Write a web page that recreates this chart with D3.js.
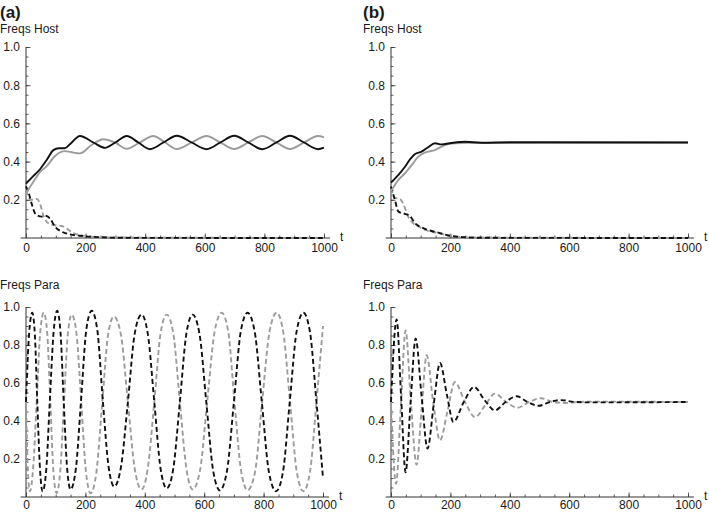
<!DOCTYPE html>
<html>
<head>
<meta charset="utf-8">
<script src="https://cdn.jsdelivr.net/npm/d3@7"></script>
<style>
  body { margin: 0; background: #fff; }
  text { font-family: "Liberation Sans", Arial, sans-serif; fill: #1a1a1a; }
</style>
</head>
<body>
<div id="root"></div>
<script>

// ---- panel (a), hosts ----
const hostA_tBlack = [0, 25, 47, 70, 92, 110, 130, 150, 181, 226, 265, 300, 338, 377, 416, 461, 506, 556, 606, 652, 699, 746, 793, 840, 886, 933, 980, 1000];
const hostA_black  = [0.285, 0.325, 0.36, 0.41, 0.46, 0.47, 0.47, 0.495, 0.534, 0.5, 0.472, 0.5, 0.534, 0.5, 0.465, 0.5, 0.535, 0.5, 0.465, 0.5, 0.535, 0.5, 0.465, 0.5, 0.535, 0.5, 0.465, 0.473];
const hostA_tGray  = [0, 25, 47, 69, 92, 110, 130, 150, 181, 220, 260, 299, 338, 382, 427, 467, 506, 556, 606, 652, 699, 746, 793, 840, 886, 933, 980, 1000];
const hostA_gray   = [0.235, 0.295, 0.345, 0.375, 0.42, 0.445, 0.455, 0.45, 0.443, 0.487, 0.517, 0.5, 0.467, 0.5, 0.534, 0.5, 0.466, 0.5, 0.534, 0.5, 0.466, 0.5, 0.534, 0.5, 0.466, 0.5, 0.534, 0.527];
const hostA_tBlackD = [0, 10, 19, 30, 36, 53, 69, 80, 97, 120, 148, 192, 250, 320, 1000];
const hostA_blackD  = [0.27, 0.23, 0.18, 0.13, 0.12, 0.112, 0.115, 0.103, 0.06, 0.033, 0.019, 0.01, 0.004, 0.001, 0];
const hostA_tGrayD  = [0, 8, 15, 25, 36, 47, 58, 75, 97, 120, 136, 159, 203, 270, 1000];
const hostA_grayD   = [0.25, 0.22, 0.2, 0.2, 0.205, 0.18, 0.12, 0.077, 0.067, 0.063, 0.05, 0.025, 0.01, 0.003, 0];

// ---- panel (a), parasites ----
const paraA_tBlack = [0, 10, 21, 30, 38, 47, 56, 68, 80, 93, 105, 116, 127, 139, 150, 168, 185, 203, 221, 240, 259, 278, 297, 320, 343, 366, 389, 410, 432, 453, 474, 496, 518, 540, 561, 584, 607, 630, 653, 677, 700, 723, 746, 770, 794, 818, 842, 865, 888, 911, 934, 956, 978, 1000];
const paraA_black  = [0.5, 0.85, 0.97, 0.85, 0.5, 0.15, 0.03, 0.14, 0.5, 0.87, 0.98, 0.87, 0.5, 0.14, 0.04, 0.15, 0.5, 0.88, 0.98, 0.88, 0.5, 0.16, 0.055, 0.16, 0.5, 0.86, 0.96, 0.86, 0.5, 0.15, 0.045, 0.15, 0.5, 0.86, 0.96, 0.86, 0.5, 0.14, 0.035, 0.14, 0.5, 0.87, 0.97, 0.87, 0.5, 0.13, 0.03, 0.13, 0.5, 0.87, 0.97, 0.87, 0.5, 0.1];
const paraA_tGray  = [0, 6, 13, 24, 36, 48, 60, 71, 82, 92, 103, 115, 128, 141, 154, 170, 186, 202, 218, 237, 257, 276, 296, 320, 343, 366, 389, 410, 432, 453, 474, 496, 518, 540, 561, 586, 610, 635, 659, 681, 702, 724, 746, 771, 795, 820, 844, 866, 889, 912, 934, 956, 978, 1000];
const paraA_gray   = [0.5, 0.15, 0.03, 0.15, 0.5, 0.87, 0.97, 0.87, 0.5, 0.14, 0.02, 0.13, 0.5, 0.86, 0.96, 0.86, 0.5, 0.13, 0.02, 0.13, 0.5, 0.85, 0.95, 0.85, 0.5, 0.15, 0.04, 0.15, 0.5, 0.86, 0.96, 0.86, 0.5, 0.15, 0.04, 0.14, 0.5, 0.87, 0.97, 0.87, 0.5, 0.14, 0.035, 0.13, 0.5, 0.87, 0.97, 0.87, 0.5, 0.13, 0.03, 0.13, 0.5, 0.9];

// ---- panel (b), hosts ----
const hostB_tBlack = [0, 25, 47, 64, 81, 103, 125, 148, 170, 198, 249, 305, 400, 1000];
const hostB_black  = [0.29, 0.33, 0.373, 0.412, 0.44, 0.452, 0.475, 0.496, 0.49, 0.496, 0.504, 0.499, 0.501, 0.5];
const hostB_tGray  = [0, 25, 47, 70, 92, 114, 148, 181, 215, 260, 330, 1000];
const hostB_gray   = [0.245, 0.304, 0.339, 0.382, 0.426, 0.447, 0.46, 0.487, 0.496, 0.498, 0.497, 0.5];
const hostB_tBlackD = [0, 13, 25, 47, 64, 81, 103, 125, 159, 204, 249, 320, 1000];
const hostB_blackD  = [0.27, 0.2, 0.138, 0.126, 0.115, 0.077, 0.056, 0.042, 0.028, 0.01, 0.004, 0.001, 0];
const hostB_tGrayD  = [0, 13, 30, 42, 58, 75, 92, 120, 159, 204, 270, 1000];
const hostB_grayD   = [0.26, 0.21, 0.205, 0.176, 0.112, 0.077, 0.06, 0.04, 0.026, 0.01, 0.003, 0];

// ---- panel (b), parasites ----
const paraB_tBlack = [0, 19, 34, 49, 66, 83, 103, 123, 144, 165, 188, 210, 245, 280, 315, 350, 386, 423, 460, 497, 535, 572, 620, 670, 1000];
const paraB_black  = [0.5, 0.935, 0.53, 0.13, 0.5, 0.834, 0.53, 0.255, 0.49, 0.705, 0.54, 0.395, 0.5, 0.579, 0.51, 0.456, 0.5, 0.53, 0.5, 0.48, 0.5, 0.51, 0.5, 0.498, 0.5];
const paraB_tGray  = [0, 17, 33, 49, 67, 86, 103, 120, 142, 165, 190, 215, 249, 283, 316, 350, 388, 425, 465, 505, 545, 585, 630, 680, 1000];
const paraB_gray   = [0.5, 0.07, 0.47, 0.877, 0.5, 0.17, 0.46, 0.746, 0.5, 0.298, 0.45, 0.605, 0.5, 0.42, 0.48, 0.544, 0.5, 0.47, 0.5, 0.52, 0.5, 0.495, 0.5, 0.502, 0.5];

const xTicks = [0, 200, 400, 600, 800, 1000];
const yTicks = [0.2, 0.4, 0.6, 0.8, 1.0];

const BLACK = "#111";
const GRAY = "#9c9c9c";

const width = 709;
const height = 512;

const svg = d3.select("#root")
  .append("svg")
    .attr("width", width)
    .attr("height", height);

const panels = [
  { tag: "(a)", title: "Freqs Host", left: 0, x0: 26, x1: 324, y0: 238, y1: 47, titleY: 33, labelY: 252,
    series: [
      { t: hostA_tGrayD, v: hostA_grayD, c: GRAY, dash: true },
      { t: hostA_tBlackD, v: hostA_blackD, c: BLACK, dash: true },
      { t: hostA_tGray, v: hostA_gray, c: GRAY },
      { t: hostA_tBlack, v: hostA_black, c: BLACK }
    ] },
  { tag: "(b)", title: "Freqs Host", left: 363, x0: 391, x1: 688, y0: 238, y1: 47, titleY: 33, labelY: 252,
    series: [
      { t: hostB_tGrayD, v: hostB_grayD, c: GRAY, dash: true },
      { t: hostB_tBlackD, v: hostB_blackD, c: BLACK, dash: true },
      { t: hostB_tGray, v: hostB_gray, c: GRAY },
      { t: hostB_tBlack, v: hostB_black, c: BLACK }
    ] },
  { title: "Freqs Para", left: 0, x0: 26, x1: 323, y0: 497, y1: 307, titleY: 289, labelY: 509,
    series: [
      { t: paraA_tGray, v: paraA_gray, c: GRAY, dash: true },
      { t: paraA_tBlack, v: paraA_black, c: BLACK, dash: true }
    ] },
  { title: "Freqs Para", left: 363, x0: 391, x1: 688, y0: 497, y1: 307, titleY: 289, labelY: 509,
    series: [
      { t: paraB_tGray, v: paraB_gray, c: GRAY, dash: true },
      { t: paraB_tBlack, v: paraB_black, c: BLACK, dash: true }
    ] }
];

const drawPanel = p => {
  const x = d3.scaleLinear().domain([0, 1000]).range([p.x0, p.x1]);
  const y = d3.scaleLinear().domain([0, 1]).range([p.y0, p.y1]);
  const g = svg.append("g");

  if (p.tag) {
    g.append("text")
      .attr("x", p.left)
      .attr("y", 18)
      .attr("font-size", 17)
      .attr("font-weight", "bold")
      .text(p.tag);
  }
  g.append("text")
    .attr("x", p.left)
    .attr("y", p.titleY)
    .attr("font-size", 12)
    .text(p.title);

  const tidy = a => {
    a.select(".domain").remove();
    a.selectAll("line").attr("stroke", "#333").attr("stroke-width", 0.8);
  };

  // minor ticks
  g.append("g")
    .attr("transform", `translate(0,${p.y0})`)
    .call(d3.axisBottom(x).tickValues(d3.range(50, 1001, 50)).tickSize(-2.5).tickFormat(""))
    .call(tidy);
  g.append("g")
    .attr("transform", `translate(${p.x0},0)`)
    .call(d3.axisLeft(y).tickValues(d3.range(1, 21).map(i => i * 0.05)).tickSize(-2.5).tickFormat(""))
    .call(tidy);

  // major ticks + labels
  const xa = g.append("g")
    .attr("transform", `translate(0,${p.y0})`)
    .call(d3.axisBottom(x).tickValues(xTicks).tickSize(-4.5).tickPadding(0).tickFormat(d3.format("d")))
    .call(tidy);
  xa.selectAll("text")
    .attr("y", null).attr("dy", null)
    .attr("transform", `translate(0,${p.labelY - p.y0})`)
    .attr("font-size", 12).attr("font-family", null).attr("fill", "#1a1a1a");

  g.append("g")
    .attr("transform", `translate(${p.x0},0)`)
    .call(d3.axisLeft(y).tickValues(yTicks).tickSize(-4.5).tickPadding(6).tickFormat(d3.format(".1f")))
    .call(tidy)
    .selectAll("text")
      .attr("font-size", 12).attr("font-family", null).attr("fill", "#1a1a1a");

  // axis lines
  g.append("line")
    .attr("x1", x(-18)).attr("x2", x(1020))
    .attr("y1", y(0)).attr("y2", y(0))
    .attr("stroke", "#333").attr("stroke-width", 1);
  g.append("line")
    .attr("x1", x(0)).attr("x2", x(0))
    .attr("y1", y(0)).attr("y2", y(1))
    .attr("stroke", "#333").attr("stroke-width", 1);

  g.append("text")
    .attr("x", x(1000) + 16)
    .attr("y", y(0) + 3)
    .attr("font-size", 12)
    .text("t");

  const line = d3.line()
    .x(d => x(d[0]))
    .y(d => y(d[1]))
    .curve(d3.curveMonotoneX);

  p.series.forEach(s => {
    g.append("path")
      .datum(d3.zip(s.t, s.v))
      .attr("d", line)
      .attr("fill", "none")
      .attr("stroke", s.c)
      .attr("stroke-width", 1.9)
      .attr("stroke-dasharray", s.dash ? "5,3" : null);
  });
};

panels.forEach(drawPanel);

</script>
</body>
</html>
